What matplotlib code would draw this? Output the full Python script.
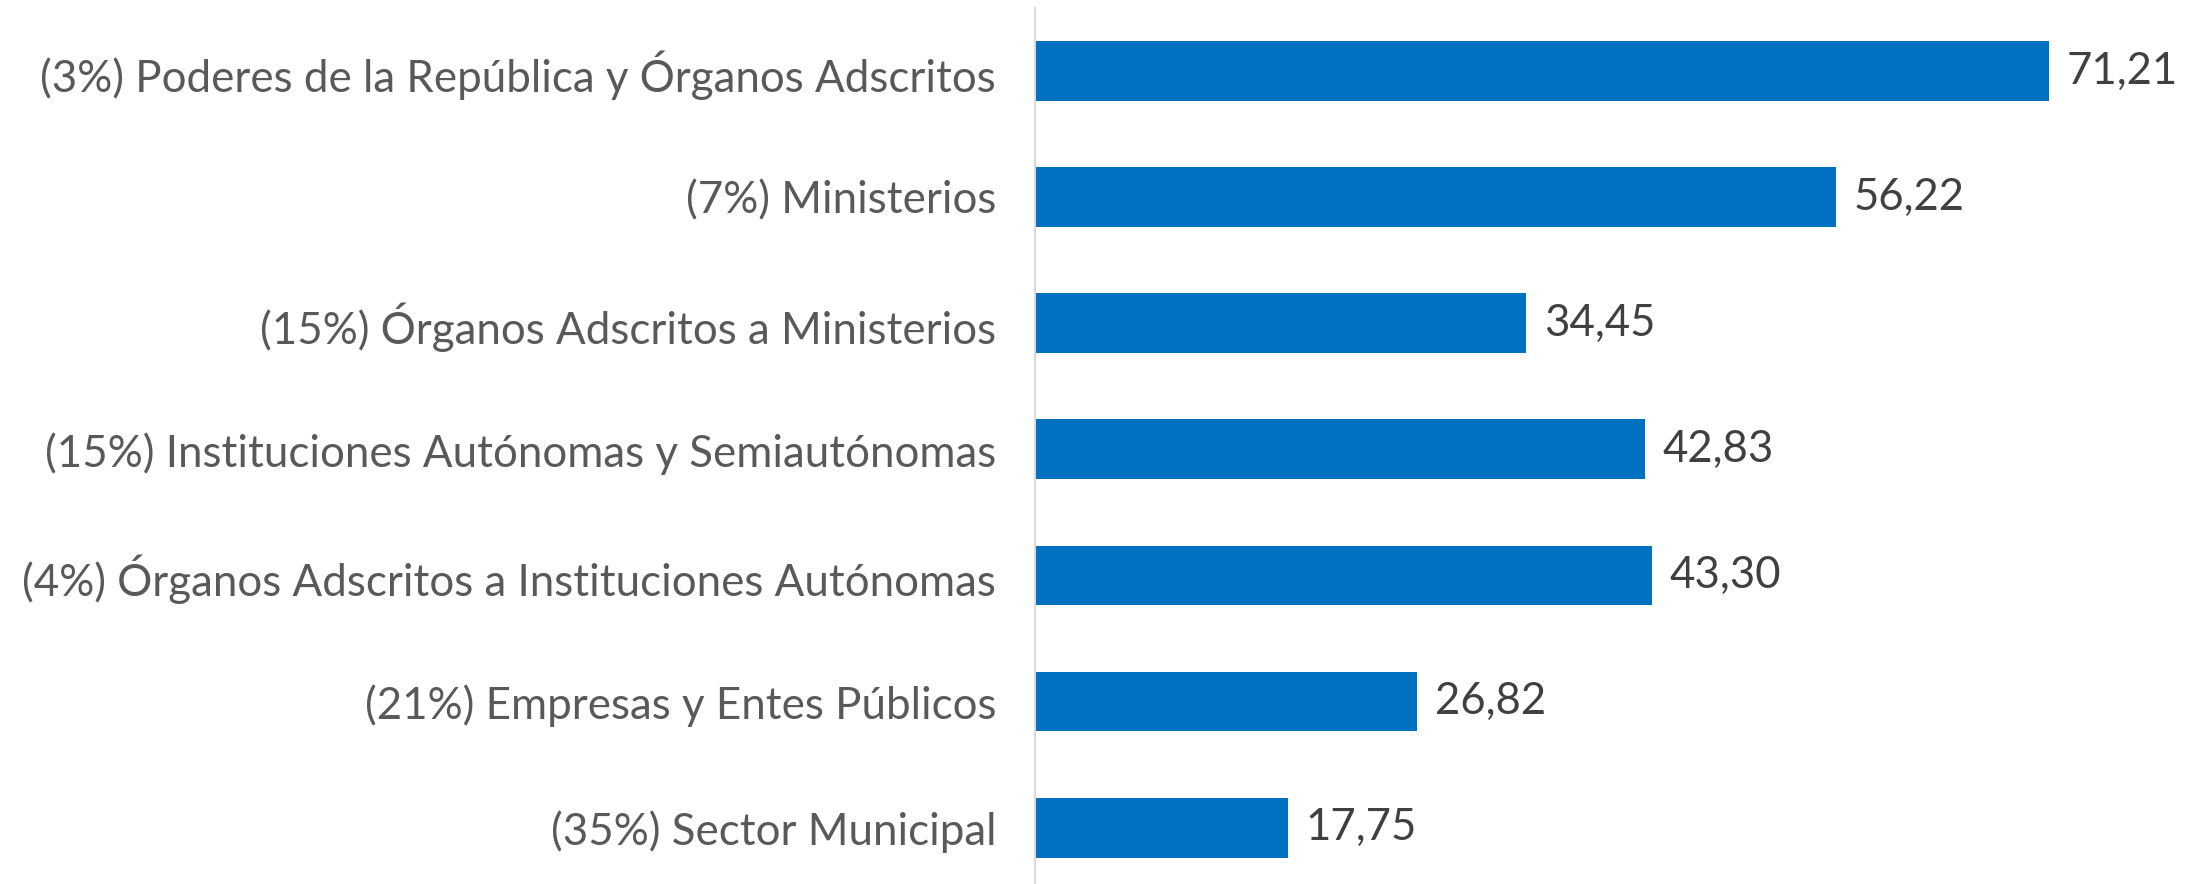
import matplotlib
matplotlib.use("Agg")
import matplotlib.pyplot as plt

categories = [
    "(3%) Poderes de la República y Órganos Adscritos",
    "(7%) Ministerios",
    "(15%) Órganos Adscritos a Ministerios",
    "(15%) Instituciones Autónomas y Semiautónomas",
    "(4%) Órganos Adscritos a Instituciones Autónomas",
    "(21%) Empresas y Entes Públicos",
    "(35%) Sector Municipal",
]
values = [71.21, 56.22, 34.45, 42.83, 43.30, 26.82, 17.75]
value_labels = ["71,21", "56,22", "34,45", "42,83", "43,30", "26,82", "17,75"]

plt.rcParams['font.family'] = ['Lato', 'DejaVu Sans']

W, H = 2199, 884
fig = plt.figure(figsize=(W / 100, H / 100), dpi=100)
left = 1035 / W
top_px, bot_px = 8, 890.7
ax = fig.add_axes([left, 1 - bot_px / H, 1 - left, (bot_px - top_px) / H])

ypos = list(range(len(categories)))
ax.barh(ypos, values, height=0.475, color="#0070C0")
ax.set_ylim(len(categories) - 0.5, -0.5)
ax.set_xlim(0, (W - 1035) / 14.24)

for y, v, lab in zip(ypos, values, value_labels):
    ax.annotate(lab, (v, y), xytext=(13, 0), textcoords="offset points",
                va="center", ha="left", fontsize=31.5, color="#404040")

ax.set_yticks(ypos)
ax.set_yticklabels(categories, fontsize=31.6, color="#595959")
ax.tick_params(axis="y", length=0, pad=28)
ax.set_xticks([])
for s in ["top", "right", "bottom"]:
    ax.spines[s].set_visible(False)
ax.spines["left"].set_color("#D9D9D9")
ax.spines["left"].set_linewidth(1.5)

fig.savefig("out.png", dpi=100)
